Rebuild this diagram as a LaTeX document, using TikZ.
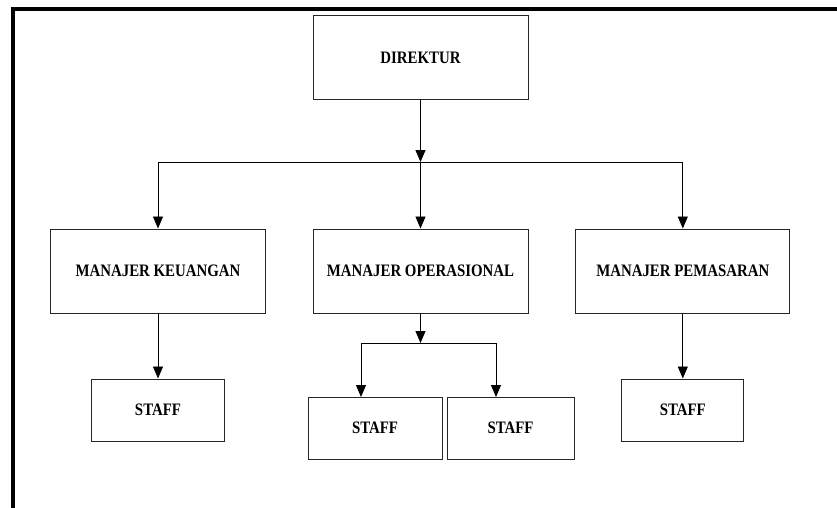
\documentclass[tikz,border=0pt]{standalone}
\usepackage{fontspec}
\newfontfamily\orgfont[FakeStretch=0.85]{Liberation Serif}
\usetikzlibrary{arrows.meta}
\begin{document}
\begin{tikzpicture}[x=1pt,y=-1pt,
  unit/.style={draw=black!85,line width=1pt,rectangle,inner sep=0pt,
    font=\orgfont\bfseries\fontsize{17.5}{20}\selectfont},
  link/.style={draw=black,line width=0.9pt},
  arr/.style={link,-{Triangle[width=10pt,length=12pt]}}]
\useasboundingbox (0,0) rectangle (837,508);
% frame along the top and left edges
\draw[line width=4.5pt,line join=miter] (13,508) -- (13,9) -- (837,9);

% top level
\node[unit,minimum width=215pt,minimum height=84pt] (dir) at (420.5,58) {DIREKTUR};
% managers
\node[unit,minimum width=215pt,minimum height=84pt] (keu) at (158,271) {MANAJER KEUANGAN};
\node[unit,minimum width=215pt,minimum height=84pt] (ops) at (420.5,271) {MANAJER OPERASIONAL};
\node[unit,minimum width=214pt,minimum height=84pt] (pem) at (682.8,271) {MANAJER PEMASARAN};
% staff
\node[unit,minimum width=133pt,minimum height=62pt] (sk) at (158,410) {STAFF};
\node[unit,minimum width=134pt,minimum height=62pt] (so1) at (375,428) {STAFF};
\node[unit,minimum width=127pt,minimum height=62pt] (so2) at (510.5,428) {STAFF};
\node[unit,minimum width=122pt,minimum height=62pt] (sp) at (682.8,410) {STAFF};

% branching points
\coordinate (hub) at (420.5,162);
\coordinate (hub2) at (420.5,343);
\coordinate (d1) at (361,397);
\coordinate (d2) at (496,397);

% connectors
\draw[arr] (dir.south) -- (hub);
\draw[arr] (hub) -| (keu.north);
\draw[arr] (hub) -| (pem.north);
\draw[arr] (hub) -- (ops.north);
\draw[arr] (keu.south) -- (sk.north);
\draw[arr] (pem.south) -- (sp.north);
\draw[arr] (ops.south) -- (hub2);
\draw[arr] (hub2) -| (d1);
\draw[arr] (hub2) -| (d2);
\end{tikzpicture}
\end{document}
